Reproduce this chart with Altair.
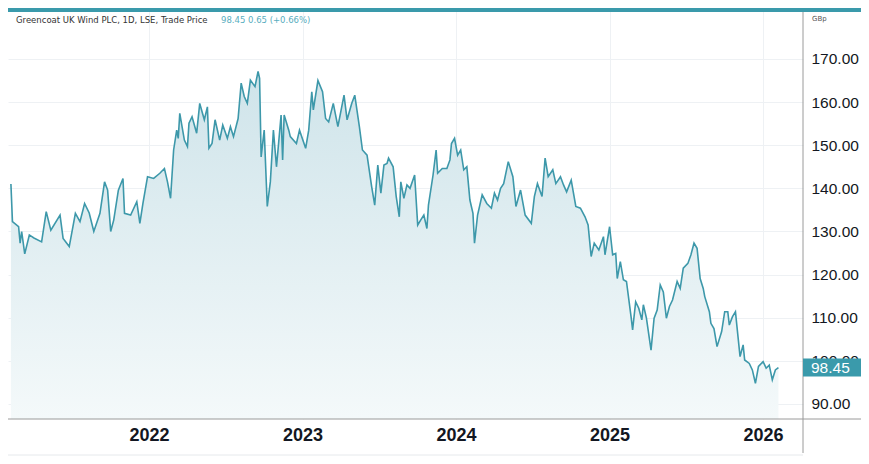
import altair as alt
import pandas as pd

# time as fractional year, price in GBp
t_2021 = [2021.10, 2021.11, 2021.15, 2021.16, 2021.17, 2021.19, 2021.22, 2021.25, 2021.30, 2021.33,
          2021.36, 2021.42, 2021.44, 2021.48, 2021.52, 2021.55, 2021.58, 2021.61, 2021.64, 2021.68,
          2021.71, 2021.73, 2021.75, 2021.77, 2021.80, 2021.83, 2021.84, 2021.88, 2021.92, 2021.94,
          2021.96, 2021.99]
p_2021 = [141.0, 132.3, 131.1, 127.3, 130.0, 124.8, 129.2, 128.5, 127.6, 134.6,
          130.3, 133.8, 128.4, 126.5, 134.2, 132.3, 136.5, 134.3, 130.0, 134.2,
          141.5, 139.6, 130.0, 132.7, 139.6, 142.3, 134.2, 133.8, 136.9, 131.9,
          136.5, 142.7]

t_2022 = [2022.03, 2022.07, 2022.10, 2022.12, 2022.14, 2022.16, 2022.18, 2022.19, 2022.20, 2022.23,
          2022.25, 2022.26, 2022.28, 2022.31, 2022.33, 2022.36, 2022.38, 2022.39, 2022.41, 2022.43,
          2022.46, 2022.48, 2022.51, 2022.53, 2022.55, 2022.58, 2022.60, 2022.62, 2022.64, 2022.66,
          2022.69, 2022.71, 2022.72, 2022.73, 2022.75, 2022.77, 2022.79, 2022.81, 2022.83, 2022.84,
          2022.86, 2022.87, 2022.88, 2022.91, 2022.92, 2022.96, 2022.98]
p_2022 = [142.3, 143.5, 144.6, 141.5, 137.7, 148.9, 153.5, 151.6, 157.4, 151.2,
          149.7, 155.1, 156.6, 152.8, 159.7, 155.9, 158.9, 149.3, 150.4, 155.9,
          151.2, 154.7, 151.6, 154.3, 152.0, 156.2, 164.4, 161.3, 159.7, 165.1,
          163.6, 167.1, 165.5, 147.3, 153.5, 135.8, 141.5, 153.5, 145.0, 148.9,
          157.0, 146.6, 157.0, 153.5, 152.0, 150.4, 153.5]

t_2023 = [2023.02, 2023.04, 2023.06, 2023.07, 2023.10, 2023.13, 2023.15, 2023.17, 2023.20, 2023.23,
          2023.27, 2023.29, 2023.32, 2023.34, 2023.37, 2023.39, 2023.42, 2023.45, 2023.47, 2023.49,
          2023.51, 2023.53, 2023.55, 2023.56, 2023.59, 2023.61, 2023.63, 2023.64, 2023.66, 2023.68,
          2023.70, 2023.73, 2023.75, 2023.77, 2023.79, 2023.81, 2023.82, 2023.85, 2023.87, 2023.88,
          2023.91, 2023.94, 2023.96, 2023.97, 2023.99]
p_2023 = [149.3, 153.5, 162.4, 158.2, 165.0, 162.4, 156.2, 155.4, 159.7, 154.3,
          161.6, 155.9, 159.7, 161.6, 154.3, 148.9, 147.7, 140.4, 136.1, 145.4,
          138.9, 145.4, 145.8, 147.0, 145.0, 138.1, 133.4, 141.5, 137.7, 140.8,
          140.0, 143.1, 131.5, 132.7, 133.8, 130.7, 136.1, 143.1, 148.9, 143.5,
          144.6, 144.6, 146.6, 150.4, 151.6]

t_2024 = [2024.01, 2024.03, 2024.05, 2024.07, 2024.09, 2024.11, 2024.12, 2024.14, 2024.17, 2024.20,
          2024.23, 2024.25, 2024.27, 2024.29, 2024.31, 2024.34, 2024.37, 2024.39, 2024.42, 2024.45,
          2024.49, 2024.51, 2024.53, 2024.56, 2024.58, 2024.60, 2024.63, 2024.65, 2024.68, 2024.70,
          2024.72, 2024.75, 2024.78, 2024.81, 2024.84, 2024.86, 2024.88, 2024.90, 2024.93, 2024.96,
          2024.97]
p_2024 = [147.7, 148.9, 144.3, 145.0, 137.3, 134.2, 127.3, 133.8, 138.5, 136.5,
          135.4, 138.9, 137.3, 140.0, 141.1, 146.2, 142.7, 135.8, 139.6, 133.8,
          131.9, 138.1, 141.1, 138.1, 147.0, 142.7, 144.3, 141.1, 142.7, 140.8,
          139.2, 141.9, 135.8, 135.4, 133.4, 131.5, 124.2, 127.3, 125.7, 128.8,
          124.6]

t_2025 = [2025.00, 2025.02, 2025.04, 2025.05, 2025.07, 2025.09, 2025.11, 2025.14, 2025.15, 2025.17,
          2025.19, 2025.21, 2025.22, 2025.24, 2025.27, 2025.29, 2025.31, 2025.33, 2025.35, 2025.37,
          2025.39, 2025.41, 2025.44, 2025.46, 2025.48, 2025.51, 2025.53, 2025.55, 2025.57, 2025.59,
          2025.61, 2025.62, 2025.65, 2025.66, 2025.68, 2025.70, 2025.73, 2025.75, 2025.77, 2025.78,
          2025.80, 2025.82, 2025.83, 2025.85, 2025.87, 2025.88, 2025.91, 2025.93, 2025.95, 2025.97,
          2026.00, 2026.02, 2026.04, 2026.06, 2026.08, 2026.10]
p_2025 = [131.1, 124.6, 124.9, 119.1, 123.0, 118.8, 118.4, 110.2, 107.2, 113.7,
          112.2, 109.5, 113.0, 109.9, 102.5, 109.9, 111.8, 117.6, 116.0, 109.9,
          112.6, 114.1, 118.4, 116.8, 121.5, 122.6, 124.6, 127.3, 126.1, 119.1,
          116.8, 114.9, 111.4, 108.7, 107.5, 103.3, 106.8, 111.4, 111.4, 108.3,
          110.2, 111.4, 107.9, 101.0, 103.7, 100.2, 99.4, 97.9, 94.8, 98.7,
          99.8, 98.3, 99.0, 95.6, 97.9, 98.45]

year_ticks = [2022, 2023, 2024, 2025, 2026]
price_ticks = [90, 100, 110, 120, 130, 140, 150, 160, 170]
title_text = "Greencoat UK Wind PLC, 1D, LSE, Trade Price"
quote_text = "98.45  0.65 (+0.66%)"
unit_text = "GBp"

t_all = t_2021 + t_2022 + t_2023 + t_2024 + t_2025
p_all = p_2021 + p_2022 + p_2023 + p_2024 + p_2025
df = pd.DataFrame({"t": t_all, "price": p_all})
last = pd.DataFrame({"t": [t_all[-1]], "price": [p_all[-1]], "label": [f"{p_all[-1]:.2f}"]})

W, H = 795, 409
Y_MIN, Y_MAX = 86.52, 181.36
TEAL = "#3d98aa"
FONT = "Liberation Sans"

x_scale = alt.Scale(domain=[2021.081, 2026.26], nice=False, zero=False)
y_scale = alt.Scale(domain=[Y_MIN, Y_MAX], nice=False, zero=False)

x_enc = alt.X("t:Q", scale=x_scale, title=None,
              axis=alt.Axis(values=year_ticks, format="d", grid=True, gridColor="#eef1f4",
                            domain=False, ticks=False, labelFontSize=18, labelFontWeight=600,
                            labelColor="#131722", labelFont=FONT, labelPadding=7,
                            labelFlush=False, labelOverlap=False))
y_enc = alt.Y("price:Q", scale=y_scale, title=None,
              axis=alt.Axis(orient="right", values=price_ticks, format=".2f", grid=True,
                            gridColor="#eef1f4", domain=False, ticks=False, labelFontSize=15.5,
                            labelColor="#131722", labelFont=FONT, labelPadding=8,
                            labelAlign="left", labelBaseline="middle"))

area = alt.Chart(df).mark_area(
    line=False,
    color=alt.Gradient(gradient="linear", x1=0, y1=0, x2=0, y2=1,
                       stops=[alt.GradientStop(color="#cfe4ea", offset=0),
                              alt.GradientStop(color="#f4f9fa", offset=1)])
).encode(x=x_enc, y=y_enc, y2=alt.datum(Y_MIN))

line = alt.Chart(df).mark_line(color=TEAL, strokeWidth=1.6).encode(
    x=alt.X("t:Q", scale=x_scale), y=alt.Y("price:Q", scale=y_scale))

# structural lines
xaxis_line = alt.Chart(last).mark_rule(color="#9a9a9a", strokeWidth=1).encode(
    x=alt.value(0), x2=alt.value(853), y=alt.value(H))
yaxis_line = alt.Chart(last).mark_rule(color="#9a9a9a", strokeWidth=1).encode(
    x=alt.value(W), y=alt.value(0), y2=alt.value(443))
bottom_line = alt.Chart(last).mark_rule(color="#e6e9ec", strokeWidth=1).encode(
    x=alt.value(0), x2=alt.value(W), y=alt.value(445))
top_bar = alt.Chart(last).mark_rect(color="#3a9aab").encode(
    x=alt.value(0), x2=alt.value(853), y=alt.value(-2), y2=alt.value(2))

title = alt.Chart(last).mark_text(align="left", baseline="middle", font="DejaVu Sans",
                                  fontSize=8.5, color="#333333").encode(
    x=alt.value(8), y=alt.value(10), text=alt.value(title_text))
quote = alt.Chart(last).mark_text(align="left", baseline="middle", font="DejaVu Sans",
                                  fontSize=8.5, color="#58adbe").encode(
    x=alt.value(213), y=alt.value(10), text=alt.value(quote_text))
unit = alt.Chart(last).mark_text(align="left", baseline="middle", font="DejaVu Sans",
                                 fontSize=7, color="#555555").encode(
    x=alt.value(804), y=alt.value(9), text=alt.value(unit_text))

box = alt.Chart(last).mark_rect(color="#3a9aab", yOffset=-9, y2Offset=9).encode(
    x=alt.value(W), x2=alt.value(853),
    y=alt.Y("price:Q", scale=y_scale), y2=alt.Y2("price:Q"))
box_text = alt.Chart(last).mark_text(align="left", baseline="middle", font=FONT,
                                     fontSize=15.5, color="white").encode(
    x=alt.value(803), y=alt.Y("price:Q", scale=y_scale), text="label:N")

chart = alt.layer(area, line, xaxis_line, yaxis_line, bottom_line, top_bar,
                  title, quote, unit, box, box_text).properties(
    width=W, height=H, autosize="none",
    padding={"left": 0, "top": 2, "right": 58, "bottom": 37},
    background="white"
).configure_view(stroke=None)

chart.save("out.html", embed_options={"renderer": "svg", "actions": False})
